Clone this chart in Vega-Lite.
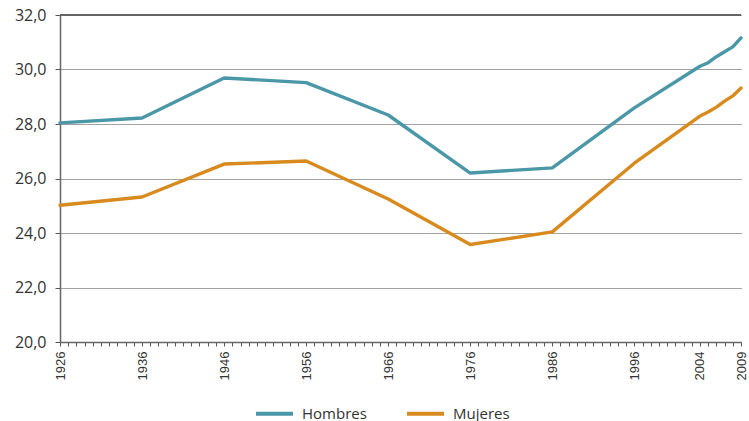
{
  "$schema": "https://vega.github.io/schema/vega-lite/v6.json",
  "width": 681,
  "height": 327,
  "autosize": {"type": "none"},
  "padding": {"left": 60, "top": 15, "right": 8, "bottom": 79},
  "background": "white",
  "config": {"view": {"stroke": null}},
  "data": {"values": [
    {"year": 1926, "serie": "Hombres", "edad": 28.04},
    {"year": 1936, "serie": "Hombres", "edad": 28.22},
    {"year": 1946, "serie": "Hombres", "edad": 29.69},
    {"year": 1956, "serie": "Hombres", "edad": 29.52},
    {"year": 1966, "serie": "Hombres", "edad": 28.33},
    {"year": 1976, "serie": "Hombres", "edad": 26.2},
    {"year": 1986, "serie": "Hombres", "edad": 26.39},
    {"year": 1996, "serie": "Hombres", "edad": 28.59},
    {"year": 2004, "serie": "Hombres", "edad": 30.12},
    {"year": 2005, "serie": "Hombres", "edad": 30.25},
    {"year": 2006, "serie": "Hombres", "edad": 30.47},
    {"year": 2007, "serie": "Hombres", "edad": 30.65},
    {"year": 2008, "serie": "Hombres", "edad": 30.83},
    {"year": 2009, "serie": "Hombres", "edad": 31.16},
    {"year": 1926, "serie": "Mujeres", "edad": 25.02},
    {"year": 1936, "serie": "Mujeres", "edad": 25.32},
    {"year": 1946, "serie": "Mujeres", "edad": 26.53},
    {"year": 1956, "serie": "Mujeres", "edad": 26.64},
    {"year": 1966, "serie": "Mujeres", "edad": 25.25},
    {"year": 1976, "serie": "Mujeres", "edad": 23.58},
    {"year": 1986, "serie": "Mujeres", "edad": 24.04},
    {"year": 1996, "serie": "Mujeres", "edad": 26.56},
    {"year": 2004, "serie": "Mujeres", "edad": 28.29},
    {"year": 2005, "serie": "Mujeres", "edad": 28.44},
    {"year": 2006, "serie": "Mujeres", "edad": 28.62},
    {"year": 2007, "serie": "Mujeres", "edad": 28.84},
    {"year": 2008, "serie": "Mujeres", "edad": 29.03},
    {"year": 2009, "serie": "Mujeres", "edad": 29.32}
  ]},
  "layer": [
    {
      "mark": {"type": "rule", "color": "#666666", "strokeWidth": 1.5},
      "encoding": {"y": {"datum": 32, "type": "quantitative", "scale": {"domain": [20, 32]}}}
    },
    {
      "mark": {"type": "line", "strokeWidth": 3.4, "strokeCap": "round", "strokeJoin": "round"},
      "encoding": {
        "x": {
          "field": "year", "type": "quantitative",
          "scale": {"domain": [1926, 2009], "nice": false, "zero": false},
          "axis": {
            "title": null,
            "values": [1926,1927,1928,1929,1930,1931,1932,1933,1934,1935,1936,1937,1938,1939,1940,1941,1942,1943,1944,1945,1946,1947,1948,1949,1950,1951,1952,1953,1954,1955,1956,1957,1958,1959,1960,1961,1962,1963,1964,1965,1966,1967,1968,1969,1970,1971,1972,1973,1974,1975,1976,1977,1978,1979,1980,1981,1982,1983,1984,1985,1986,1987,1988,1989,1990,1991,1992,1993,1994,1995,1996,1997,1998,1999,2000,2001,2002,2003,2004,2005,2006,2007,2008,2009],
            "labelExpr": "indexof([1926,1936,1946,1956,1966,1976,1986,1996,2004,2009], datum.value) >= 0 ? format(datum.value, 'd') : ''",
            "labelOverlap": false,
            "labelAngle": -90,
            "labelAlign": "right",
            "labelBaseline": "middle",
            "labelFlush": false,
            "labelPadding": 5,
            "labelFont": "Liberation Sans",
            "labelFontSize": 13,
            "labelColor": "#333333",
            "tickSize": 4,
            "tickColor": "#555555",
            "domainColor": "#666666",
            "domainWidth": 1.5,
            "grid": false
          }
        },
        "y": {
          "field": "edad", "type": "quantitative",
          "scale": {"domain": [20, 32], "nice": false, "zero": false},
          "axis": {
            "title": null,
            "values": [20, 22, 24, 26, 28, 30, 32],
            "labelExpr": "replace(format(datum.value, '.1f'), '.', ',')",
            "labelFont": "Open Sans",
            "labelFontSize": 16,
            "labelColor": "#333333",
            "labelPadding": 9,
            "tickSize": 5,
            "tickColor": "#555555",
            "domainColor": "#666666",
            "domainWidth": 1.5,
            "grid": true,
            "gridColor": "#444444",
            "gridDash": [1, 1],
            "gridWidth": 1
          }
        },
        "color": {
          "field": "serie", "type": "nominal",
          "scale": {"domain": ["Hombres", "Mujeres"], "range": ["#4a97a8", "#d98a1e"]},
          "legend": {
            "title": null,
            "orient": "none",
            "direction": "horizontal",
            "legendX": 194,
            "legendY": 378,
            "symbolType": "stroke",
            "symbolSize": 1369,
            "symbolStrokeWidth": 4,
            "labelFont": "Open Sans",
            "labelFontSize": 15,
            "labelColor": "#333333",
            "labelOffset": 7,
            "columnPadding": 32
          }
        }
      }
    }
  ]
}
